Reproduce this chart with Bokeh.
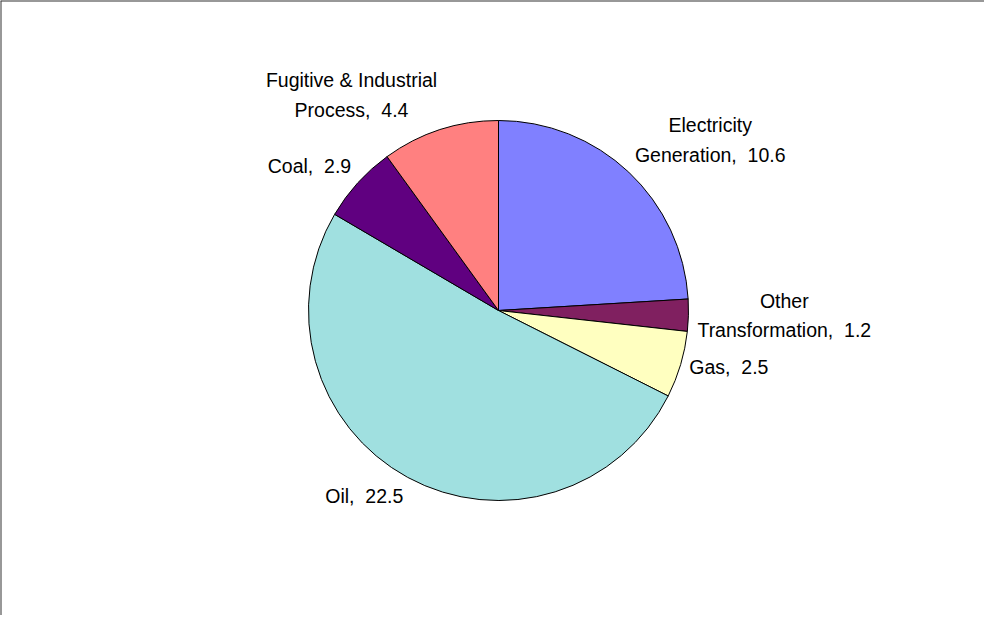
import math
from bokeh.plotting import figure
from bokeh.models import Range1d, Span, ColumnDataSource
from bokeh.core.properties import value
from bokeh.embed import file_html
from bokeh.resources import INLINE

# ---- data ----
categories = ["Electricity\nGeneration", "Other\nTransformation", "Gas", "Oil", "Coal",
              "Fugitive & Industrial\nProcess"]
values = [10.6, 1.2, 2.5, 22.5, 2.9, 4.4]
colors = ["#8080FF", "#802060", "#FFFFC0", "#A0E0E0", "#600080", "#FF8080"]

# ---- layout ----
W, H = 984, 615
CX, CY = 498, H - 310          # pie centre in figure pixels (y up)
R = 190                        # pie radius in pixels
GAP = 9                        # label distance outside the pie
FONT = "Liberation Sans"
FSIZE = "19.5px"

p = figure(width=W, height=H, x_range=Range1d(0, W), y_range=Range1d(0, H),
           output_backend="svg", toolbar_location=None, min_border=0,
           x_axis_type=None, y_axis_type=None, outline_line_color=None,
           background_fill_color="white", border_fill_color="white")
p.grid.visible = False

total = sum(values)
starts, ends, mids = [], [], []
cum = 0.0
for v in values:
    a0 = math.pi / 2 - 2 * math.pi * cum / total
    cum += v
    a1 = math.pi / 2 - 2 * math.pi * cum / total
    starts.append(a0)
    ends.append(a1)
    mids.append((a0 + a1) / 2)

src = ColumnDataSource(dict(x=[CX] * len(values), y=[CY] * len(values),
                            start=starts, end=ends, color=colors))
p.wedge(x="x", y="y", radius=R, radius_units="screen", start_angle="start",
        end_angle="end", direction="clock", fill_color="color",
        line_color="black", line_width=1, source=src)

# labels: Excel-like "outside end" placement
lx, ly, ltext, lanchor = [], [], [], []
for cat, v, m in zip(categories, values, mids):
    dx, dy = math.cos(m), math.sin(m)
    lx.append(CX + (R + GAP) * dx)
    ly.append(CY + (R + GAP) * dy)
    ltext.append(f"{cat},\u00a0 {v}")
    h = "left" if dx > 0.3 else ("right" if dx < -0.3 else "center")
    vv = "bottom" if dy > 0.3 else ("top" if dy < -0.3 else "center")
    if vv == "center" and h == "center":
        anc = "center"
    elif vv == "center":
        anc = "center_" + h
    elif h == "center":
        anc = vv + "_center"
    else:
        anc = vv + "_" + h
    lanchor.append(anc)

for x, y, t, a in zip(lx, ly, ltext, lanchor):
    p.text(x=[x], y=[y], text=[t], anchor=a, text_align="center",
           text_font=value(FONT), text_font_size=FSIZE, text_color="black",
           text_line_height=1.35)

# chart-area border (left and top visible in the reference)
p.add_layout(Span(location=0, dimension="height", line_color="#333333", line_width=2))
p.add_layout(Span(location=H, dimension="width", line_color="#333333", line_width=2))

open("out.html", "w").write(file_html(p, INLINE))
